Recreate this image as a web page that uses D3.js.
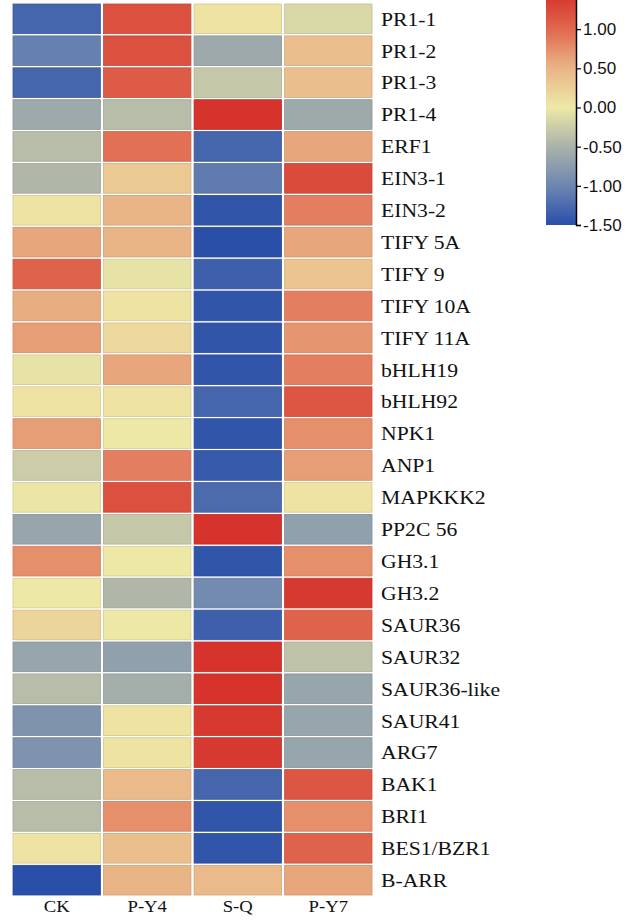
<!DOCTYPE html>
<html><head><meta charset="utf-8">
<script src="https://cdn.jsdelivr.net/npm/d3@7"></script>
<style>html,body{margin:0;padding:0;background:#fff;}</style>
</head><body>
<svg id="chart" width="636" height="920"></svg>
<script>
const genes = ["PR1-1","PR1-2","PR1-3","PR1-4","ERF1","EIN3-1","EIN3-2","TIFY 5A","TIFY 9","TIFY 10A","TIFY 11A","bHLH19","bHLH92","NPK1","ANP1","MAPKKK2","PP2C 56","GH3.1","GH3.2","SAUR36","SAUR32","SAUR36-like","SAUR41","ARG7","BAK1","BRI1","BES1/BZR1","B-ARR"];
const groups = ["CK","P-Y4","S-Q","P-Y7"];
const valCK  = [-1.3,-1.05,-1.3,-0.6,-0.4,-0.45,0.05,0.6,1.05,0.55,0.65,-0.05,0.05,0.65,-0.25,-0.02,-0.65,0.75,0.0,0.2,-0.65,-0.4,-0.85,-0.85,-0.4,-0.4,0.05,-1.5];
const valPY4 = [1.2,1.2,1.1,-0.4,0.95,0.3,0.5,0.5,-0.05,0.05,0.15,0.6,0.05,0.0,0.85,1.2,-0.3,0.0,-0.45,0.0,-0.7,-0.55,0.05,0.05,0.45,0.75,0.4,0.5];
const valSQ  = [0.05,-0.6,-0.3,1.45,-1.3,-1.1,-1.45,-1.5,-1.35,-1.45,-1.45,-1.45,-1.3,-1.45,-1.4,-1.25,1.45,-1.45,-0.95,-1.35,1.45,1.45,1.4,1.4,-1.3,-1.45,-1.45,0.45];
const valPY7 = [-0.15,0.4,0.4,-0.6,0.6,1.25,0.85,0.6,0.35,0.85,0.7,0.85,1.15,0.75,0.65,0.05,-0.7,0.75,1.4,1.05,-0.35,-0.65,-0.65,-0.65,1.15,0.75,1.05,0.6];
const legendTicks = [1.0,0.5,0.0,-0.5,-1.0,-1.5];

const series = [valCK, valPY4, valSQ, valPY7];
const cells = [];
genes.forEach((g,i)=>groups.forEach((grp,j)=>cells.push({gene:g,group:grp,value:series[j][i]})));

const color = d3.scaleLinear()
  .domain([-1.5,-1.0,-0.5,0,0.5,1.0,1.5])
  .range(["#2a4fa8","#6d86b2","#a9b2a9","#eee8a6","#e9b587","#e0684f","#d42d27"])
  .clamp(true);

const svg = d3.select("#chart");
const x = d3.scaleBand().domain(groups).range([13,372]).paddingInner(0.035);
const y = d3.scaleBand().domain(genes).range([4,895]).paddingInner(0.07);

svg.append("g").selectAll("rect").data(cells).join("rect")
  .attr("x",d=>x(d.group)).attr("y",d=>y(d.gene))
  .attr("width",x.bandwidth()).attr("height",y.bandwidth())
  .attr("fill",d=>color(d.value))
  .attr("stroke",d=>d3.color(color(d.value)).darker(0.35))
  .attr("stroke-width",0.8);

svg.append("g").selectAll("text").data(genes).join("text")
  .attr("transform",d=>`translate(381,${y(d)+y.bandwidth()/2}) scale(1.14,1)`)
  .attr("dy","0.36em")
  .attr("font-family","'Liberation Serif','Times New Roman',serif")
  .attr("font-size",19).attr("fill","#111")
  .text(d=>d);

svg.append("g").selectAll("text").data(groups).join("text")
  .attr("transform",d=>`translate(${x(d)+x.bandwidth()/2},912) scale(1.1,1)`)
  .attr("text-anchor","middle")
  .attr("font-family","'Liberation Serif','Times New Roman',serif")
  .attr("font-size",17).attr("fill","#111")
  .text(d=>d);

// legend
const ly = d3.scaleLinear().domain([-1.5,1.5]).range([225,-10]);
const defs = svg.append("defs");
const grad = defs.append("linearGradient").attr("id","lg")
  .attr("x1","0").attr("y1","1").attr("x2","0").attr("y2","0");
d3.range(0,1.0001,0.05).forEach(t=>{
  grad.append("stop").attr("offset",t).attr("stop-color",color(-1.5+3*t));
});
svg.append("rect").attr("x",546).attr("y",ly(1.5)).attr("width",30)
  .attr("height",ly(-1.5)-ly(1.5)).attr("fill","url(#lg)");
const fmt = d3.format(".2f");
const axis = d3.axisRight(ly).tickValues(legendTicks).tickFormat(d=>fmt(d).replace("\u2212","-")).tickSize(5).tickPadding(2);
const ag = svg.append("g").attr("transform","translate(576,0)").call(axis);
ag.select(".domain").attr("stroke","#000").attr("stroke-width",1.5);
ag.selectAll(".tick line").attr("stroke","#000").attr("stroke-width",1.2);
ag.selectAll("text").attr("font-family","'Liberation Sans',Arial,sans-serif")
  .attr("font-size",17).attr("fill","#111");
</script>
</body></html>
